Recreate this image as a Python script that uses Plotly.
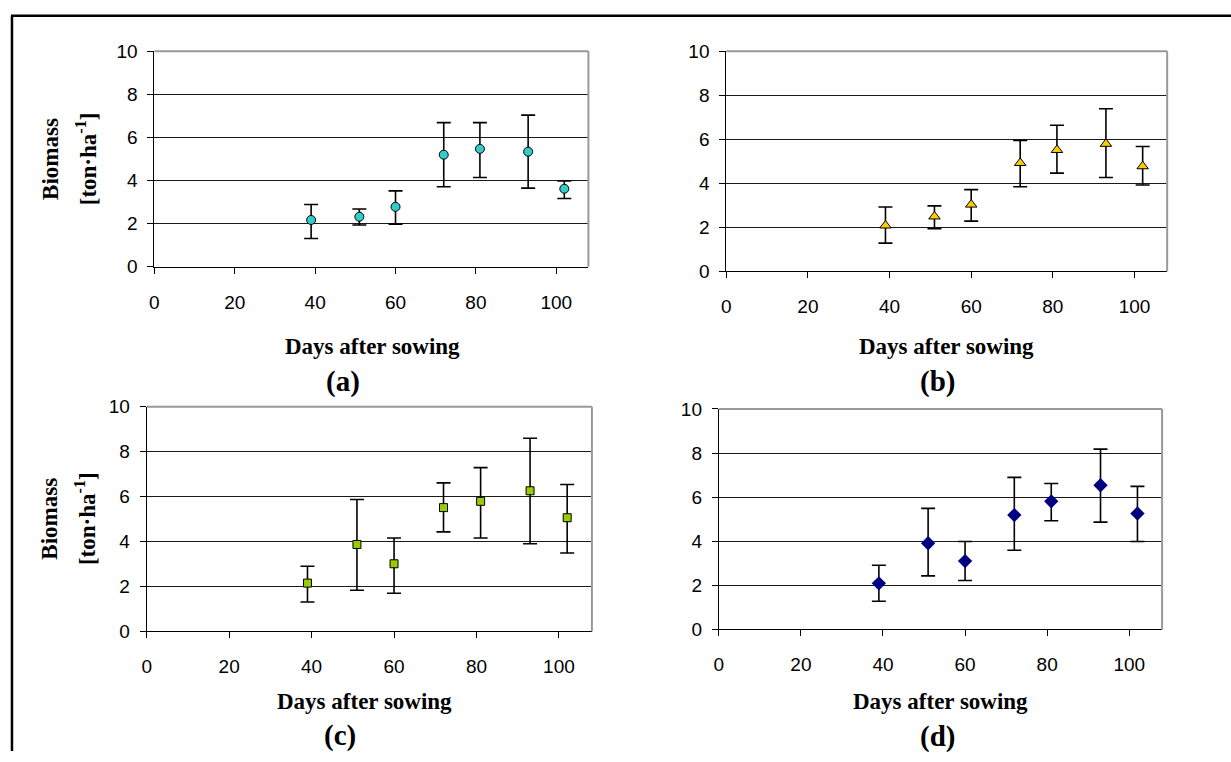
import plotly.graph_objects as go

# Sampling dates (days after sowing), shared by the four treatments
days = [39, 51, 60, 72, 81, 93, 102]

# Mean biomass [ton/ha] with upper and lower error-bar limits for each treatment
a_mean = [2.17, 2.32, 2.78, 5.20, 5.47, 5.34, 3.62]
a_high = [2.89, 2.68, 3.52, 6.69, 6.69, 7.04, 3.98]
a_low = [1.31, 1.94, 1.98, 3.71, 4.14, 3.65, 3.17]

b_mean = [2.08, 2.49, 3.03, 4.92, 5.51, 5.79, 4.77]
b_high = [2.92, 2.97, 3.71, 5.94, 6.63, 7.38, 5.67]
b_low = [1.28, 1.94, 2.28, 3.84, 4.46, 4.26, 3.92]

c_mean = [2.15, 3.87, 3.01, 5.51, 5.79, 6.26, 5.06]
c_high = [2.90, 5.87, 4.16, 6.61, 7.29, 8.60, 6.54]
c_low = [1.31, 1.83, 1.70, 4.43, 4.16, 3.90, 3.49]

d_mean = [2.09, 3.91, 3.10, 5.19, 5.81, 6.54, 5.26]
d_high = [2.91, 5.49, 3.99, 6.90, 6.62, 8.18, 6.49]
d_low = [1.28, 2.43, 2.22, 3.59, 4.93, 4.87, 3.99]

x_ticks = [0, 20, 40, 60, 80, 100]
y_ticks = [0, 2, 4, 6, 8, 10]
x_title = "Days after sowing"
y_title_1 = "Biomass"
y_title_2 = "[ton·ha<sup>-1</sup>]"
panel_labels = ["(a)", "(b)", "(c)", "(d)"]

W, H = 1231, 762
SERIF = "Liberation Serif, Times New Roman, serif"
SANS = "Liberation Sans, Arial, sans-serif"


def px_x(v):
    return v / W


def px_y(v):
    return 1 - v / H


# plot boxes in pixels: left, right, top, bottom
boxes = [
    (150.0, 585.8, 42.5, 264.0),
    (724.2, 1166.9, 42.3, 268.7),
    (142.3, 589.3, 408.0, 639.0),
    (716.7, 1161.8, 410.3, 637.0),
]

series = [
    (a_mean, a_high, a_low, "circle", 9, "#33CCCC", "#000000", 1),
    (b_mean, b_high, b_low, "triangle-up", 10, "#FFCC00", "#000000", 1),
    (c_mean, c_high, c_low, "square", 8, "#99CC00", "#000000", 1),
    (d_mean, d_high, d_low, "diamond", 11, "#000080", "#000080", 0),
]

# text anchors in pixels
xtitle_pos = [(368.8, 346.0), (945.2, 346.0), (360.9, 711.5), (939.2, 711.0)]
label_pos = [(339.0, 382.0), (936.0, 382.0), (336.0, 746.5), (936.0, 747.0)]
ytitle_pos = {0: 153.3, 2: 523.3}

fig = go.Figure()
layout = dict(
    width=W, height=H, autosize=False,
    margin=dict(l=0, r=0, t=0, b=0),
    paper_bgcolor="white", plot_bgcolor="white",
    showlegend=False,
)
annotations = []
shapes = []

for i, ((mean, high, low, sym, size, fill, lc, lw), (l, r, t, b)) in enumerate(zip(series, boxes)):
    n = i + 1
    xa = "x" if n == 1 else f"x{n}"
    ya = "y" if n == 1 else f"y{n}"
    plus = [h - m for h, m in zip(high, mean)]
    minus = [m - lo for m, lo in zip(mean, low)]
    fig.add_trace(go.Scatter(
        x=days, y=mean, mode="markers", xaxis=xa, yaxis=ya,
        marker=dict(symbol=sym, size=size, color=fill, line=dict(color=lc, width=lw)),
        error_y=dict(type="data", array=plus, arrayminus=minus, symmetric=False,
                     color="#000000", thickness=1.6, width=7),
        hoverinfo="skip",
    ))
    xkey = "xaxis" if n == 1 else f"xaxis{n}"
    ykey = "yaxis" if n == 1 else f"yaxis{n}"
    layout[xkey] = dict(
        domain=[px_x(l), px_x(r)], anchor=ya, range=[0, 108],
        tickvals=x_ticks, ticks="outside", ticklen=6, tickcolor="#000000", tickwidth=1,
        showline=True, linecolor="#000000", linewidth=1, showgrid=False, zeroline=False,
        tickfont=dict(family=SANS, size=19, color="#000000"), ticklabelstandoff=12,
        fixedrange=True,
    )
    layout[ykey] = dict(
        domain=[px_y(b), px_y(t)], anchor=xa, range=[0, 10],
        tickvals=y_ticks, ticks="outside", ticklen=6, tickcolor="#000000", tickwidth=1,
        showline=True, linecolor="#000000", linewidth=1,
        showgrid=True, gridcolor="#1a1a1a", gridwidth=1, zeroline=False,
        tickfont=dict(family=SANS, size=19, color="#000000"), ticklabelstandoff=6,
        fixedrange=True,
    )
    # grey frame on top and right of the plot area
    shapes.append(dict(type="line", xref="paper", yref="paper",
                       x0=px_x(l), x1=px_x(r), y0=px_y(t), y1=px_y(t),
                       line=dict(color="#999999", width=2), layer="above"))
    shapes.append(dict(type="line", xref="paper", yref="paper",
                       x0=px_x(r), x1=px_x(r), y0=px_y(t), y1=px_y(b),
                       line=dict(color="#999999", width=2), layer="above"))

    annotations.append(dict(
        text=f"<b>{x_title}</b>", x=px_x(xtitle_pos[i][0]), y=px_y(xtitle_pos[i][1]),
        xref="paper", yref="paper", xanchor="center", yanchor="middle", showarrow=False,
        font=dict(family=SERIF, size=23, color="#000000")))
    annotations.append(dict(
        text=f"<b>{panel_labels[i]}</b>", x=px_x(label_pos[i][0]), y=px_y(label_pos[i][1]),
        xref="paper", yref="paper", xanchor="center", yanchor="middle", showarrow=False,
        font=dict(family=SERIF, size=29, color="#000000")))
    if i in ytitle_pos:
        yc = ytitle_pos[i]
        annotations.append(dict(
            text=f"<b>{y_title_1}</b>", x=px_x(45.0), y=px_y(yc),
            xref="paper", yref="paper", xanchor="center", yanchor="middle", showarrow=False,
            textangle=-90, font=dict(family=SERIF, size=23, color="#000000")))
        annotations.append(dict(
            text=f"<b>{y_title_2}</b>", x=px_x(81.5), y=px_y(yc),
            xref="paper", yref="paper", xanchor="center", yanchor="middle", showarrow=False,
            textangle=-90, font=dict(family=SERIF, size=23, color="#000000")))

# outer frame lines (top and left)
shapes.append(dict(type="line", xref="paper", yref="paper",
                   x0=px_x(6), x1=1, y0=px_y(6), y1=px_y(6),
                   line=dict(color="#000000", width=2.5)))
shapes.append(dict(type="line", xref="paper", yref="paper",
                   x0=px_x(7), x1=px_x(7), y0=px_y(6), y1=0,
                   line=dict(color="#000000", width=2.5)))

layout["annotations"] = annotations
layout["shapes"] = shapes
fig.update_layout(**layout)
fig.write_html("out.html", config={"displayModeBar": False, "staticPlot": True})
